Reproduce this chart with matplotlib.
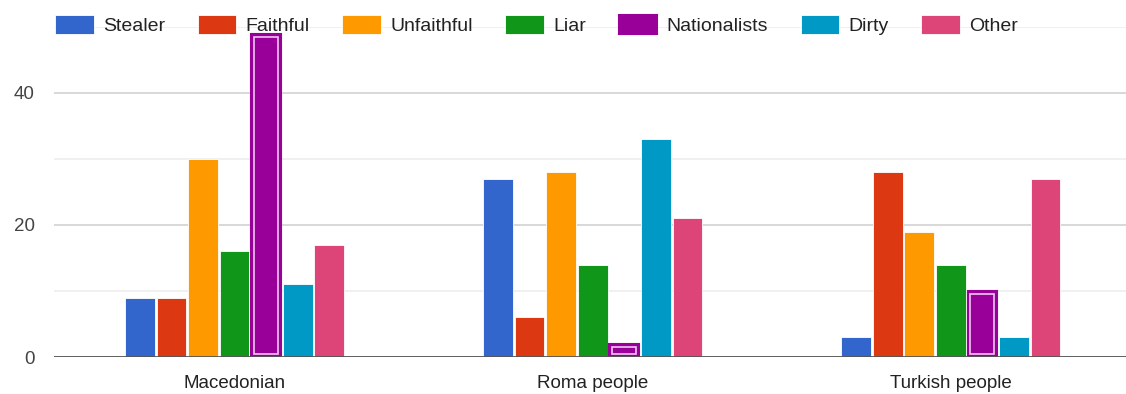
"""Grouped bar chart of stereotypes per group, Google Charts look."""

import matplotlib

matplotlib.use("Agg")
import matplotlib.pyplot as plt
import numpy as np

groups = ["Macedonian", "Roma people", "Turkish people"]
series = ["Stealer", "Faithful", "Unfaithful", "Liar", "Nationalists", "Dirty", "Other"]
stealer = [9, 27, 3]
faithful = [9, 6, 28]
unfaithful = [30, 28, 19]
liar = [16, 14, 14]
nationalists = [49, 2, 10]
dirty = [11, 33, 3]
other = [17, 21, 27]
values = [stealer, faithful, unfaithful, liar, nationalists, dirty, other]
colors = ["#3366cc", "#dc3912", "#ff9900", "#109618", "#990099", "#0099c6", "#dd4477"]

plt.rcParams["font.family"] = ["Liberation Sans", "DejaVu Sans"]

fig = plt.figure(figsize=(11.26, 3.94), dpi=100)
ax = fig.add_axes([0.048, 0.0939, 0.952, 0.8376])

x = np.arange(len(groups))
step = 0.0882
width = 0.083
for i, (name, vals, col) in enumerate(zip(series, values, colors)):
    pos = x + (i - 3) * step
    if name == "Nationalists":
        # selected-series look: purple frame, light inner outline
        ax.bar(pos, vals, width, color=col, edgecolor=col, linewidth=1.5, label=name, zorder=3)
        ax.bar(pos, np.array(vals) - 0.9, width - 0.016, bottom=0.45, color="none",
               edgecolor="#f0c8f0", linewidth=1.2, zorder=4)
    else:
        ax.bar(pos, vals, width, color=col, edgecolor="white", linewidth=0.6, label=name, zorder=3)

ax.set_xlim(-0.504, 2.489)
ax.set_ylim(0, 50)
ax.set_yticks([0, 20, 40])
ax.set_yticks([10, 30, 50], minor=True)
ax.grid(axis="y", which="major", color="#d6d6d6", linewidth=1.3, zorder=0)
ax.grid(axis="y", which="minor", color="#ececec", linewidth=1.1, zorder=0)
ax.axhline(0, color="#555555", linewidth=2, zorder=5)
for s in ax.spines.values():
    s.set_visible(False)
ax.tick_params(axis="both", which="both", length=0)
ax.tick_params(axis="y", labelsize=13.5, labelcolor="#444444", pad=14)
ax.tick_params(axis="x", labelsize=13.5, labelcolor="#222222", pad=13)
ax.set_xticks(x)
ax.set_xticklabels(groups)

handles, labels = ax.get_legend_handles_labels()
fig.legend(handles, labels, loc="center left", bbox_to_anchor=(0.0488, 0.9365), ncol=7,
           frameon=False, fontsize=14, handlelength=2.0, handleheight=1.08,
           handletextpad=0.46, columnspacing=1.68, borderpad=0, borderaxespad=0,
           labelcolor="#222222")

fig.savefig("out.png", dpi=100)
